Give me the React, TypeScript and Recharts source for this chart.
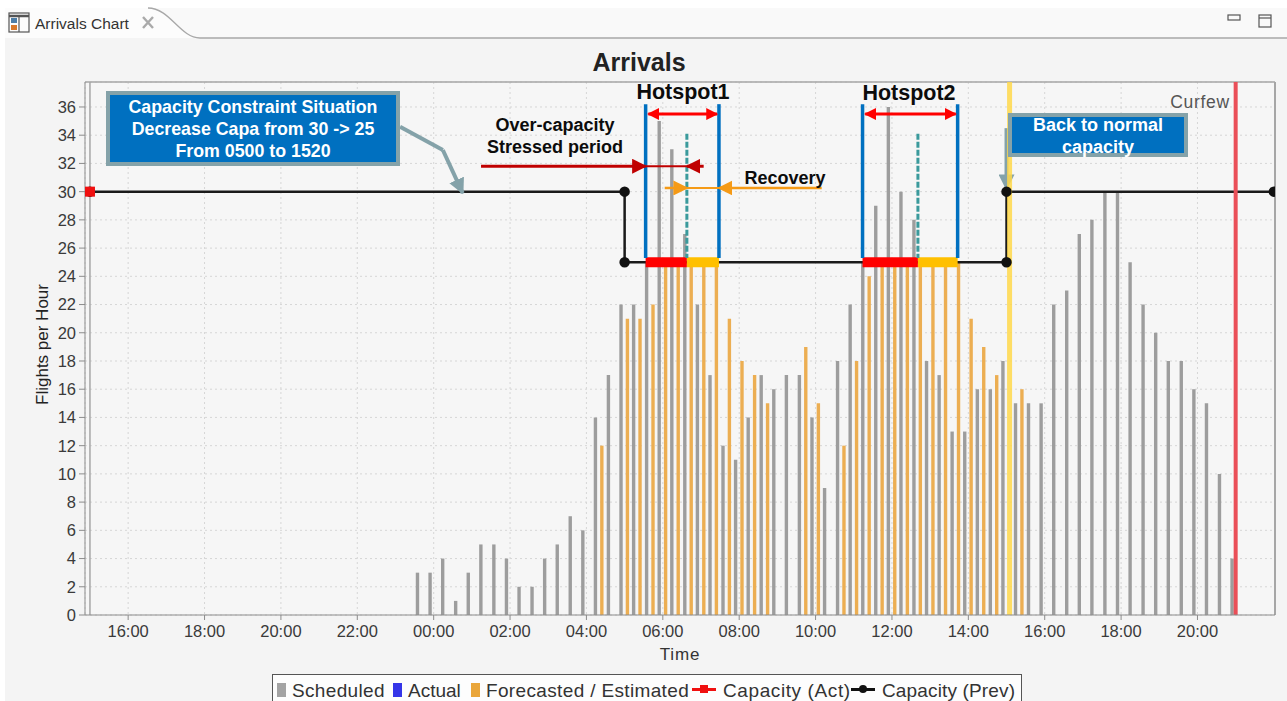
import {
  ComposedChart, Bar, Line, XAxis, YAxis, CartesianGrid, ReferenceLine,
} from 'recharts'

// time is in hours from midnight of the first day, so 24 = 00:00 next day
const slotTimes = [
  23.67, 24, 24.33, 24.67, 25, 25.33, 25.67, 26, 26.33, 26.67, 27, 27.33, 27.67,
  28, 28.33, 28.67, 29, 29.33, 29.67, 30, 30.33, 30.67, 31, 31.33, 31.67,
  32, 32.33, 32.67, 33, 33.33, 33.67, 34, 34.33, 34.67, 35, 35.33, 35.67,
  36, 36.33, 36.67, 37, 37.33, 37.67, 38, 38.33, 38.67, 39, 39.33, 39.67,
  40, 40.33, 40.67, 41, 41.33, 41.67, 42, 42.33, 42.67, 43, 43.33, 43.67,
  44, 44.33, 44.67, 45,
]
const scheduled = [
  3, 3, 4, 1, 3, 5, 5, 4, 2, 2, 4, 5, 7,
  6, 14, 17, 22, 22, 25, 35, 33, 27, 22, 17, 12,
  11, 14, 17, 16, 17, 17, 14, 9, 18, 22, 25, 29,
  36, 30, 28, 18, 17, 13, 13, 16, 16, 18, 15, 15,
  15, 22, 23, 27, 28, 30, 30, 25, 22, 20, 18, 18,
  16, 15, 10, 4,
]
const forecasted = [
  null, null, null, null, null, null, null, null, null, null, null, null, null,
  null, 12, null, 21, 21, 22, 25, 25, 25, 25, 25, 21,
  18, 17, 15, null, null, 19, 15, null, 12, 18, 24, 25,
  25, 25, 25, 25, 25, 25, 21, 19, 17, null, 16, null,
  null, null, null, null, null, null, null, null, null, null, null, null,
  null, null, null, null,
]

const capacityPrevTimes = [15, 29, 29, 39, 39, 46]
const capacityPrevValues = [30, 30, 25, 25, 30, 30]
const capacityActTimes = [15]
const capacityActValues = [30]

const xTicks = [16, 18, 20, 22, 24, 26, 28, 30, 32, 34, 36, 38, 40, 42, 44]
const yTicks = [0, 2, 4, 6, 8, 10, 12, 14, 16, 18, 20, 22, 24, 26, 28, 30, 32, 34, 36]

const legendNames = ['Scheduled', 'Actual', 'Forecasted / Estimated', 'Capacity (Act)', 'Capacity (Prev)']

const chartData = slotTimes.map((h, i) => ({
  h,
  scheduled: scheduled[i],
  actual: null,
  forecasted: forecasted[i],
}))
const prevData = capacityPrevTimes.map((h, i) => ({ h, prev: capacityPrevValues[i] }))
const actData = capacityActTimes.map((h, i) => ({ h, act: capacityActValues[i] }))

const FONT = '"Liberation Sans", Arial, sans-serif'
const TICK = { fontSize: 16.5, fill: '#3a3a3a', fontFamily: FONT }
const LEGEND_STYLE = [
  { color: '#a3a3a3', left: 277, spacing: 0.35 },
  { color: '#3535e8', left: 393, spacing: 0 },
  { color: '#eaa63a', left: 471, spacing: 0.35 },
  { color: '#f01010', left: 692, spacing: 0.6 },
  { color: '#111111', left: 851, spacing: 0.15 },
]

function fmtHour(h: number) {
  return `${String(h % 24).padStart(2, '0')}:00`
}

function Seg({ a, b, color, w, dash, end, start }: any) {
  return (
    <ReferenceLine
      segment={[{ x: a[0], y: a[1] }, { x: b[0], y: b[1] }]}
      stroke={color}
      strokeWidth={w}
      strokeDasharray={dash}
      markerEnd={end ? `url(#${end})` : undefined}
      markerStart={start ? `url(#${start})` : undefined}
      ifOverflow="visible"
    />
  )
}

function Arrowhead({ id, color, size = 4 }: any) {
  return (
    <marker id={id} viewBox="0 0 10 10" refX="9" refY="5" markerWidth={size} markerHeight={size} orient="auto-start-reverse">
      <path d="M0,0 L10,5 L0,10 Z" fill={color} />
    </marker>
  )
}

function Callout({ left, top, width, height, lines, size, pad }: any) {
  return (
    <div style={{
      position: 'absolute', left, top, width, height, boxSizing: 'border-box',
      background: '#0070c0', border: '4px solid #84a2a9', color: '#fff',
      fontFamily: FONT, fontWeight: 700, fontSize: size, lineHeight: '22px',
      textAlign: 'center',
    }}>
      <div style={{ marginTop: pad }}>
        {lines.map((l: string) => <div key={l}>{l}</div>)}
      </div>
    </div>
  )
}

function Note({ x, y, text, size = 18, color = '#0c0c0c', bold = true, spacing = 0 }: any) {
  return (
    <div style={{
      position: 'absolute', left: x - 150, top: y - size, width: 300, height: size * 2, lineHeight: `${size * 2}px`,
      textAlign: 'center', fontFamily: FONT, fontSize: size, fontWeight: bold ? 700 : 400, color, letterSpacing: spacing,
    }}>{text}</div>
  )
}

export default function App() {
  return (
    <div style={{ position: 'absolute', left: 0, top: 0, width: 1287, height: 701, overflow: 'hidden', background: '#fff' }}>
      {/* view chrome */}
      <svg width={1287} height={701} style={{ position: 'absolute', left: 0, top: 0 }}>
        <rect x={5} y={8} width={1282} height={693} fill="#f4f4f4" />
        <path d="M5,8 L148,8 C170,8 180,38 200,38 L1287,38 L1287,8 Z" fill="#f9f9f9" />
        <path d="M5,8 L5,38 L200,38 C180,38 170,8 148,8 Z" fill="#fcfcfc" />
        <path d="M148,8 C170,8 180,38 200,38 L1287,38" fill="none" stroke="#a8a8a8" strokeWidth={1.3} />
        <g fill="none" stroke="#555" strokeWidth={1.2}>
          <rect x={9} y={13} width={20} height={19} />
          <line x1={9} y1={16} x2={29} y2={16} strokeWidth={2.5} />
          <line x1={19} y1={17} x2={19} y2={32} />
          <rect x={1228} y={15} width={12} height={5} />
          <rect x={1259} y={15} width={12} height={12} />
          <line x1={1259} y1={18} x2={1271} y2={18} />
          <path d="M143,17 L153,28 M153,17 L143,28" stroke="#aaa" strokeWidth={2.4} />
        </g>
        <rect x={11} y={18} width={6} height={5} fill="#4d7ea8" />
        <rect x={11} y={25} width={6} height={5} fill="#d9792b" />
        <text x={35} y={29} fontFamily={FONT} fontSize={15.5} fill="#333">Arrivals Chart</text>
      </svg>

      <ComposedChart
        width={1287}
        height={701}
        data={chartData}
        margin={{ top: 82, right: 12, left: 25, bottom: 0 }}
        barGap={3}
        style={{ position: 'absolute', left: 0, top: 0 }}
      >
        <defs>
          <Arrowhead id="redHead" color="#ff0000" size={4} />
          <Arrowhead id="darkHead" color="#c00000" size={5} />
          <Arrowhead id="orangeHead" color="#f59a16" size={6} />
          <Arrowhead id="slateHead" color="#84a2a9" size={4} />
        </defs>
        <CartesianGrid stroke="#d6d6d6" strokeDasharray="2 3" fill="#f6f6f6" />
        <XAxis
          dataKey="h"
          type="number"
          scale="linear"
          domain={[14.87, 46.03]}
          ticks={xTicks}
          tickFormatter={fmtHour}
          tick={TICK}
          tickSize={5}
          tickMargin={5}
          stroke="#8c8c8c"
          height={86}
          allowDataOverflow
          label={{ value: 'Time', position: 'insideTop', offset: 33, style: { fontSize: 17, fill: '#333', fontFamily: FONT, letterSpacing: 0.8 } }}
        />
        <YAxis
          type="number"
          domain={[0, 37.77]}
          ticks={yTicks}
          tick={TICK}
          tickSize={6}
          tickMargin={3}
          stroke="#8c8c8c"
          width={60}
          allowDataOverflow
          label={{ value: 'Flights per Hour', angle: -90, position: 'insideLeft', offset: 17, dy: -4, style: { fontSize: 17, fill: '#222', fontFamily: FONT, textAnchor: 'middle' } }}
        />
        <ReferenceLine x={15} stroke="#a6a6a6" strokeWidth={1.5} />
        <ReferenceLine x={46.03} stroke="#a6a6a6" strokeWidth={2} />
        <ReferenceLine y={37.77} stroke="#a6a6a6" strokeWidth={1.5} />

        <Bar dataKey="scheduled" stackId="sched" barSize={3.4} fill="#9d9d9d" isAnimationActive={false} />
        <Bar dataKey="actual" stackId="est" barSize={3.4} fill="#3535e8" isAnimationActive={false} />
        <Bar dataKey="forecasted" stackId="est" barSize={3.4} fill="#ecae52" isAnimationActive={false} />

        <Line
          data={prevData}
          dataKey="prev"
          type="linear"
          stroke="#1a1a1a"
          strokeWidth={2.5}
          dot={{ r: 4, fill: '#111', stroke: '#111' }}
          isAnimationActive={false}
        />
        <Line
          data={actData}
          dataKey="act"
          stroke="#f01010"
          dot={(p: any) => <rect key="act" x={p.cx - 5} y={p.cy - 5} width={10} height={10} fill="#f01010" />}
          isAnimationActive={false}
        />

        {/* capacity bands of the two hotspots */}
        {Seg({ a: [29.55, 25], b: [30.63, 25], color: '#ff0000', w: 10 })}
        {Seg({ a: [30.63, 25], b: [31.47, 25], color: '#ffc000', w: 10 })}
        {Seg({ a: [35.23, 25], b: [36.68, 25], color: '#ff0000', w: 10 })}
        {Seg({ a: [36.68, 25], b: [37.72, 25], color: '#ffc000', w: 10 })}

        {Seg({ a: [29.55, 36.2], b: [29.55, 25.3], color: '#0070c0', w: 3.5 })}
        {Seg({ a: [31.47, 36.2], b: [31.47, 25.3], color: '#0070c0', w: 3.5 })}
        {Seg({ a: [35.23, 36.2], b: [35.23, 25.3], color: '#0070c0', w: 3.5 })}
        {Seg({ a: [37.72, 36.2], b: [37.72, 25.3], color: '#0070c0', w: 3.5 })}

        {Seg({ a: [30.63, 34.1], b: [30.63, 25.3], color: '#3a9a9c', w: 3, dash: '6 2' })}
        {Seg({ a: [36.68, 34.1], b: [36.68, 25.3], color: '#3a9a9c', w: 3, dash: '6 2' })}

        {Seg({ a: [29.62, 35.5], b: [31.42, 35.5], color: '#ff0000', w: 3, end: 'redHead', start: 'redHead' })}
        {Seg({ a: [35.3, 35.5], b: [37.67, 35.5], color: '#ff0000', w: 3, end: 'redHead', start: 'redHead' })}

        {Seg({ a: [25.24, 31.8], b: [29.55, 31.8], color: '#c00000', w: 3, end: 'darkHead' })}
        {Seg({ a: [29.55, 31.8], b: [30.63, 31.8], color: '#c00000', w: 2 })}
        {Seg({ a: [31.07, 31.8], b: [30.63, 31.8], color: '#c00000', w: 3, end: 'darkHead' })}

        {Seg({ a: [30.05, 30.26], b: [30.63, 30.26], color: '#f59a16', w: 2.5, end: 'orangeHead' })}
        {Seg({ a: [30.63, 30.26], b: [31.47, 30.26], color: '#f59a16', w: 2 })}
        {Seg({ a: [34.16, 30.26], b: [31.47, 30.26], color: '#f59a16', w: 2.5, end: 'orangeHead' })}

        {/* callout leaders */}
        {Seg({ a: [23.12, 34.6], b: [24.24, 32.95], color: '#84a2a9', w: 4 })}
        {Seg({ a: [24.24, 32.95], b: [24.76, 29.9], color: '#84a2a9', w: 4, end: 'slateHead' })}
        {Seg({ a: [39, 34.5], b: [39, 30.2], color: '#84a2a9', w: 4, end: 'slateHead' })}

        <ReferenceLine x={39.08} stroke="#ffd84a" strokeWidth={5} strokeOpacity={0.85} />
        <ReferenceLine x={45} stroke="#ea4f58" strokeWidth={4} />
      </ComposedChart>

      <Note x={639} y={62} text="Arrivals" size={25} color="#222" />
      <Note x={683} y={92} text="Hotspot1" size={21.5} />
      <Note x={909} y={93} text="Hotspot2" size={21.5} />
      <Note x={555} y={125} text="Over-capacity" />
      <Note x={555} y={147} text="Stressed period" />
      <Note x={785} y={178} text="Recovery" />
      <Note x={1200} y={102} text="Curfew" size={17.5} color="#555" bold={false} spacing={0.7} />

      <Callout left={106} top={91} width={294} height={75} size={17.8} pad={1} lines={['Capacity Constraint Situation', 'Decrease Capa from 30 -> 25', 'From 0500 to 1520']} />
      <Callout left={1008} top={113} width={180} height={44} size={18} pad={-3} lines={['Back to normal', 'capacity']} />

      {/* legend */}
      <div style={{ position: 'absolute', left: 272, top: 674, width: 750, height: 30, boxSizing: 'border-box', border: '1.5px solid #555', background: '#fdfdfd' }} />
      {legendNames.map((name, i) => {
        const s = LEGEND_STYLE[i]
        return (
          <div key={name} style={{ position: 'absolute', left: s.left, top: 680, height: 20, whiteSpace: 'nowrap', fontFamily: FONT, fontSize: 19, lineHeight: '22px', color: '#333', letterSpacing: s.spacing }}>
            {i < 3
              ? <span style={{ display: 'inline-block', width: 9, height: 14, marginRight: 6, background: s.color }} />
              : <span style={{ display: 'inline-block', position: 'relative', width: 24, height: 14, marginRight: 7 }}>
                  <span style={{ position: 'absolute', left: 0, right: 0, top: 5, height: 2.5, background: s.color }} />
                  <span style={{ position: 'absolute', left: 8, top: 2, width: 8, height: 8, borderRadius: i === 4 ? 4 : 0, background: s.color }} />
                </span>}
            {name}
          </div>
        )
      })}
    </div>
  )
}
